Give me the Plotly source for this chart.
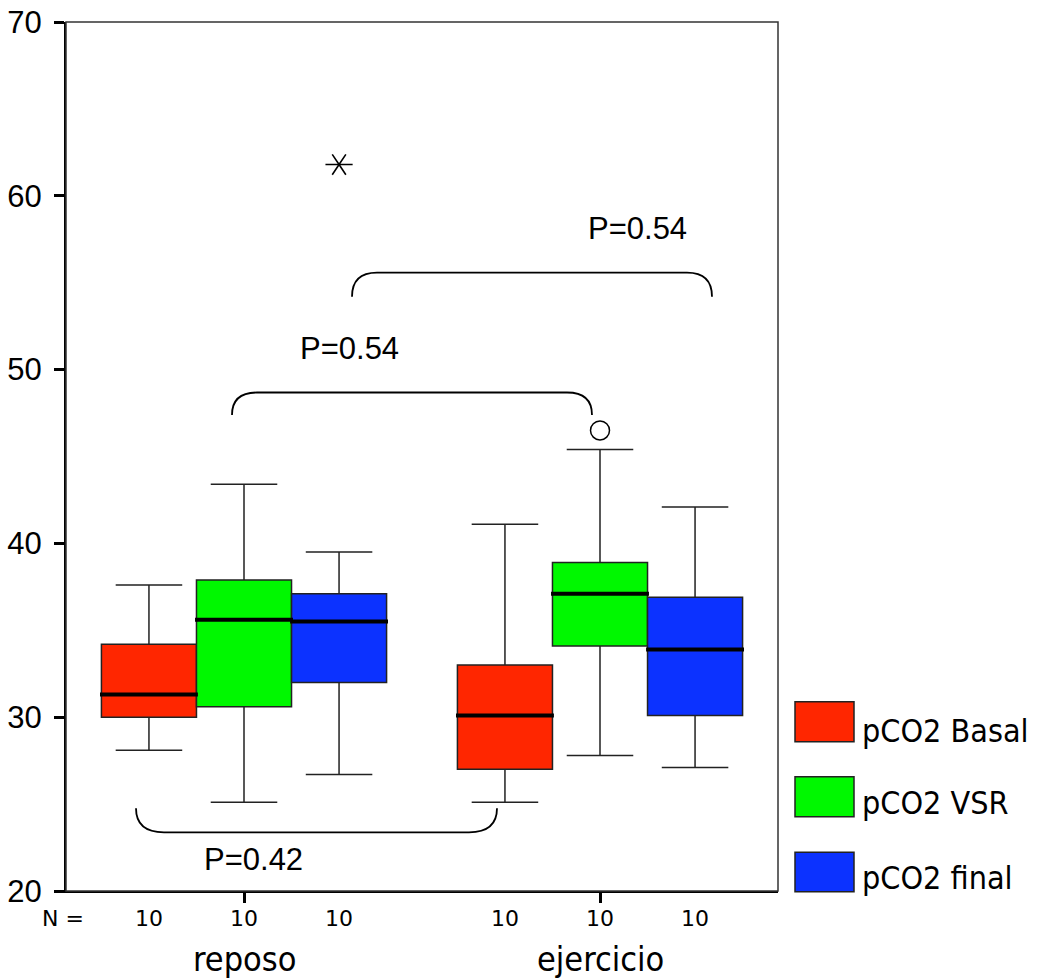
import plotly.graph_objects as go

# ---------------- data ----------------
groups = ["reposo", "ejercicio"]
group_pos = [1, 2]
series_names = ["pCO2 Basal", "pCO2 VSR", "pCO2 final"]
series_colors = ["#FF2600", "#00F800", "#0C32FF"]

basal_low = [28.1, 25.1]
basal_q1 = [30.0, 27.0]
basal_med = [31.3, 30.1]
basal_q3 = [34.2, 33.0]
basal_high = [37.6, 41.1]

vsr_low = [25.1, 27.8]
vsr_q1 = [30.6, 34.1]
vsr_med = [35.6, 37.1]
vsr_q3 = [37.9, 38.9]
vsr_high = [43.4, 45.4]

final_low = [26.7, 27.1]
final_q1 = [32.0, 30.1]
final_med = [35.5, 33.9]
final_q3 = [37.1, 36.9]
final_high = [39.5, 42.1]

n_counts = [[10, 10, 10], [10, 10, 10]]

# outliers: (series index, group index, value)
outlier_circle = [(1, 1, 46.5)]
outlier_extreme = [(2, 0, 61.8)]

# comparisons: p-value labels
p_labels = ["P=0.54", "P=0.54", "P=0.42"]

# --------------- layout constants ---------------
W, H = 1041, 979
ML, MR, MT, MB = 66, 263, 22, 88
PW, PH = W - ML - MR, H - MT - MB
XR = [0.5, 2.5]
YR = [20, 70]
OFF = 0.267
BW = 0.267


def px_x(xp):
    return XR[0] + (xp - ML) / PW * (XR[1] - XR[0])


def px_y(yp):
    return YR[0] + (MT + PH - yp) / PH * (YR[1] - YR[0])


def paper_x(xp):
    return (xp - ML) / PW


def paper_y(yp):
    return (MT + PH - yp) / PH


stats = [
    (basal_low, basal_q1, basal_med, basal_q3, basal_high),
    (vsr_low, vsr_q1, vsr_med, vsr_q3, vsr_high),
    (final_low, final_q1, final_med, final_q3, final_high),
]
offsets = [-OFF, 0, OFF]

fig = go.Figure()

for si, (lo, q1, med, q3, hi) in enumerate(stats):
    xs = [g + offsets[si] for g in group_pos]
    fig.add_trace(go.Box(
        x=xs, lowerfence=lo, q1=q1, median=med, q3=q3, upperfence=hi,
        width=BW, whiskerwidth=0.7, fillcolor=series_colors[si],
        line=dict(color="#222222", width=1.5), name=series_names[si],
        showlegend=False, boxpoints=False,
    ))

# thick median lines
mx, my = [], []
for si, (lo, q1, med, q3, hi) in enumerate(stats):
    for gi, g in enumerate(group_pos):
        c = g + offsets[si]
        mx += [c - BW / 2 - 0.004, c + BW / 2 + 0.004, None]
        my += [med[gi], med[gi], None]
fig.add_trace(go.Scatter(x=mx, y=my, mode="lines",
                         line=dict(color="black", width=4), showlegend=False))

# outliers
for si, gi, v in outlier_circle:
    fig.add_trace(go.Scatter(x=[group_pos[gi] + offsets[si]], y=[v], mode="markers",
                             marker=dict(symbol="circle-open", size=19,
                                         line=dict(color="black", width=1.5), color="black"),
                             showlegend=False))
for si, gi, v in outlier_extreme:
    for sym in ["y-left-open", "y-right-open"]:
        fig.add_trace(go.Scatter(x=[group_pos[gi] + offsets[si]], y=[v], mode="markers",
                                 marker=dict(symbol=sym, size=17,
                                             line=dict(color="black", width=1.6), color="black"),
                                 showlegend=False))

shapes = []
annotations = []

# brackets (x0px, x1px, level px, end px, corner px)
brackets = [
    (232, 592, 392.5, 415, 25),
    (352, 712, 272.7, 296.7, 25),
    (136, 497, 832.3, 808.3, 28),
]
label_pos = [(349, 348), (637.5, 228), (253.5, 859)]
for (x0p, x1p, lvp, endp, rp) in brackets:
    x0, x1 = px_x(x0p), px_x(x1p)
    yl, ye = px_y(lvp), px_y(endp)
    r = rp / PW * (XR[1] - XR[0])
    path = (f"M {x0},{ye} Q {x0},{yl} {x0 + r},{yl} L {x1 - r},{yl} "
            f"Q {x1},{yl} {x1},{ye}")
    shapes.append(dict(type="path", path=path, xref="x", yref="y",
                       line=dict(color="black", width=1.8)))
for lab, (lx, ly) in zip(p_labels, label_pos):
    annotations.append(dict(x=px_x(lx), y=px_y(ly), xref="x", yref="y", text=lab,
                            showarrow=False, xanchor="center", yanchor="middle",
                            font=dict(family="Liberation Sans, Arial", size=31, color="black")))

# frame (top/right)
shapes.append(dict(type="rect", xref="paper", yref="paper", x0=0, x1=1, y0=0, y1=1,
                   line=dict(color="#333333", width=1.5), layer="above"))

# N row
annotations.append(dict(x=paper_x(63), y=paper_y(918.5), xref="paper", yref="paper",
                        text="N =", showarrow=False, xanchor="center", yanchor="middle",
                        font=dict(family="DejaVu Sans", size=22, color="black")))
for gi, g in enumerate(group_pos):
    for si in range(3):
        annotations.append(dict(x=g + offsets[si], y=paper_y(918.5), xref="x", yref="paper",
                                text=str(n_counts[gi][si]), showarrow=False,
                                xanchor="center", yanchor="middle",
                                font=dict(family="DejaVu Sans", size=22, color="black")))
    annotations.append(dict(x=g, y=paper_y(958.5), xref="x", yref="paper",
                            text=groups[gi], showarrow=False,
                            xanchor="center", yanchor="middle",
                            font=dict(family="DejaVu Sans Condensed", size=34, color="black")))

# manual legend
leg_boxes = [(701.7, 741.7), (776.7, 816.7), (852.3, 891.7)]
leg_text_y = [731, 803.3, 878]
for si in range(3):
    y0p, y1p = leg_boxes[si]
    shapes.append(dict(type="rect", xref="paper", yref="paper",
                       x0=paper_x(795), x1=paper_x(854), y0=paper_y(y1p), y1=paper_y(y0p),
                       fillcolor=series_colors[si], line=dict(color="#222222", width=1.5)))
    annotations.append(dict(x=paper_x(860), y=paper_y(leg_text_y[si]), xref="paper", yref="paper",
                            text=series_names[si], showarrow=False,
                            xanchor="left", yanchor="middle",
                            font=dict(family="DejaVu Sans Condensed", size=32, color="black")))

fig.update_layout(
    width=W, height=H,
    margin=dict(l=ML, r=MR, t=MT, b=MB, pad=0),
    paper_bgcolor="white", plot_bgcolor="white",
    boxmode="overlay",
    showlegend=False,
    shapes=shapes, annotations=annotations,
    xaxis=dict(range=XR, tickvals=group_pos, ticktext=["", ""], ticks="outside",
               ticklen=10, tickwidth=3, tickcolor="black", showline=True,
               linecolor="black", linewidth=2, showgrid=False, zeroline=False,
               fixedrange=True, automargin=False),
    yaxis=dict(range=YR, tickvals=[20, 30, 40, 50, 60, 70], ticks="outside",
               ticklen=10, tickwidth=3, tickcolor="black", showline=True,
               linecolor="black", linewidth=2, showgrid=False, zeroline=False,
               tickfont=dict(family="Liberation Sans, Arial", size=31, color="black"),
               ticklabelstandoff=6, fixedrange=True, automargin=False),
)

fig.write_html("out.html")
